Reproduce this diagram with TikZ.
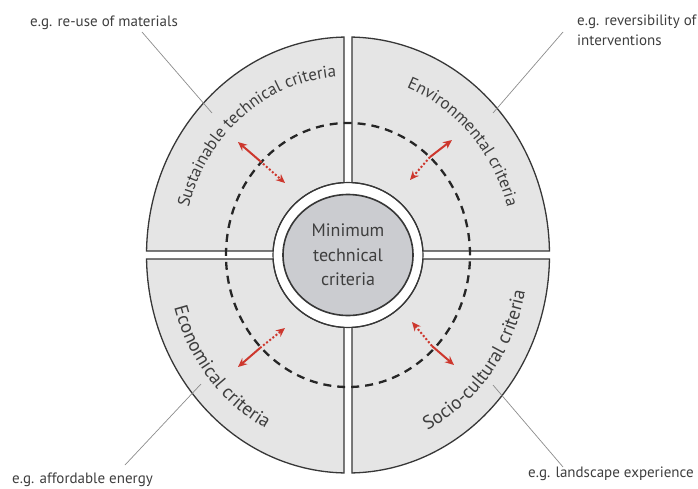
\documentclass[tikz,border=0pt]{standalone}
\usepackage{fontspec}
\setmainfont{PT Sans}
\usetikzlibrary{arrows.meta,decorations.text,shapes.geometric}
\definecolor{quadfill}{RGB}{229,229,229}
\definecolor{corefill}{RGB}{203,204,208}
\definecolor{edgegrey}{RGB}{55,55,55}
\definecolor{textgrey}{RGB}{62,62,62}
\definecolor{arrowred}{RGB}{205,55,45}
\definecolor{leadergrey}{RGB}{140,140,140}
\tikzset{quad/.style={fill=quadfill,draw=edgegrey,line width=1.3pt},
  ringline/.style={draw=edgegrey,line width=1.1pt},
  dashring/.style={draw=black!85,line width=2.3pt,dash pattern=on 8pt off 6pt},
  arrsolid/.style={draw=arrowred,line width=2pt,-{Stealth[length=9pt,width=8pt]}},
  arrdot/.style={draw=arrowred,line width=2pt,dash pattern=on 2pt off 2pt,-{Stealth[length=9pt,width=8pt]}},
  leader/.style={draw=leadergrey,line width=0.7pt},
  note/.style={font=\fontsize{15}{20}\selectfont,text=textgrey,inner sep=0pt,align=left},
  core/.style={ellipse,fill=corefill,draw=edgegrey,line width=1.6pt,minimum width=130pt,minimum height=121pt,
    inner sep=0pt,align=center,text=textgrey,font=\fontsize{18}{24.5}\selectfont}}
\newcommand{\quadfont}{\fontsize{17}{17}\selectfont\color{textgrey}}
\newcommand{\quadfontlow}{\fontsize{19}{19}\selectfont\color{textgrey}}

\begin{document}
\begin{tikzpicture}[x=1pt,y=1pt]
	\useasboundingbox (-348,-233) rectangle (350,255);
	\def\rx{201.5}
	\def\ry{218}
	\def\rix{75}
	\def\riy{72.5}
	\def\gap{4}
	% four quadrants, mirrored
	\foreach \sx/\sy in {1/1,-1/1,1/-1,-1/-1}{
		\begin{scope}[xscale=\sx,yscale=\sy]
			\filldraw[quad] ({180-asin(\gap/\riy)}:{\rix} and {\riy}) -- ({180-asin(\gap/\ry)}:{\rx} and {\ry})
				arc[start angle={180-asin(\gap/\ry)},end angle={90+asin(\gap/\rx)},x radius=\rx,y radius=\ry]
				-- ({90+asin(\gap/\rix)}:{\rix} and {\riy})
				arc[start angle={90+asin(\gap/\rix)},end angle={180-asin(\gap/\riy)},x radius=\rix,y radius=\riy] -- cycle;
		\end{scope}
	}
	\draw[ringline] (0,0) ellipse [x radius=\rix,y radius=\riy];
	\draw[dashring] (0,0) ellipse [x radius=122,y radius=132];
	% red arrows across the dashed ring
	\foreach \nm/\ox/\oy/\mx/\my/\ix/\iy in {tl/-110/113/-88/94/-63/72,tr/104/115/82/98/62/75,
		bl/-110/-112/-88/-93/-63/-73,br/106/-110/84/-91/64/-67}{
		\coordinate (\nm o) at (\ox,\oy);
		\coordinate (\nm m) at (\mx,\my);
		\coordinate (\nm i) at (\ix,\iy);
		\draw[arrsolid] (\nm m) -- (\nm o);
		\draw[arrdot] (\nm m) -- (\nm i);
	}
	\node[core] (core) at (0,0) {Minimum\\technical\\criteria};
	% curved quadrant titles
	\path[decorate,decoration={text along path,text align=center,text={|\quadfont|Sustainable technical criteria}}]
		(174:{0.82*\rx} and {0.82*\ry}) arc[start angle=174,end angle=84,x radius={0.82*\rx},y radius={0.82*\ry}];
	\path[decorate,decoration={text along path,text align=center,text={|\quadfont|Environmental criteria}}]
		(88:{0.82*\rx} and {0.82*\ry}) arc[start angle=88,end angle=-2,x radius={0.82*\rx},y radius={0.82*\ry}];
	\path[decorate,decoration={text along path,text align=center,text={|\quadfontlow|Economical criteria}}]
		(175:{0.895*\rx} and {0.895*\ry}) arc[start angle=175,end angle=265,x radius={0.895*\rx},y radius={0.895*\ry}];
	\path[decorate,decoration={text along path,text align=center,text={|\quadfontlow|Socio-cultural criteria}}]
		(277:{0.895*\rx} and {0.895*\ry}) arc[start angle=277,end angle=367,x radius={0.895*\rx},y radius={0.895*\ry}];
	% example notes and leader lines
	\node[note,anchor=base west] (nmat) at (-318,228) {e.g. re-use of materials};
	\node[note,anchor=north west] (nrev) at (229,240) {e.g. reversibility of\\interventions};
	\node[note,anchor=base west] (naff) at (-336,-228) {e.g. affordable energy};
	\node[note,anchor=base west] (nland) at (180,-222) {e.g. landscape experience};
	\coordinate (ltl) at (-206,223);
	\coordinate (ltr) at (215,223);
	\coordinate (lbl) at (-223,-210);
	\coordinate (lbr) at (215,-212);
	\coordinate (etl) at (-136,142);
	\coordinate (etr) at (145,142);
	\coordinate (ebl) at (-147,-129);
	\coordinate (ebr) at (145,-130);
	\draw[leader] (ltl) -- (etl);
	\draw[leader] (ltr) -- (etr);
	\draw[leader] (lbl) -- (ebl);
	\draw[leader] (lbr) -- (ebr);
\end{tikzpicture}
\end{document}
